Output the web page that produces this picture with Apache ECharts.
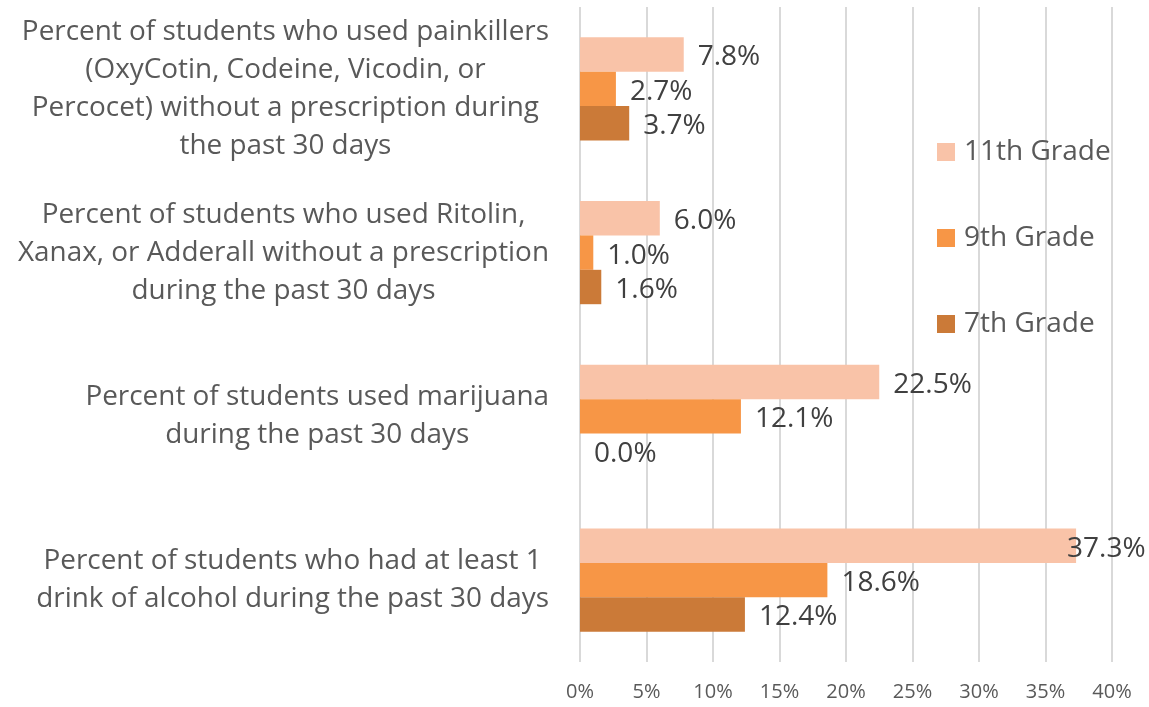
<!DOCTYPE html>
<html>
<head>
<meta charset="utf-8">
<style>
  html, body { margin: 0; padding: 0; background: #fff; }
  #chart { width: 1149px; height: 707px; }
</style>
<script src="https://cdn.jsdelivr.net/npm/echarts@6/dist/echarts.min.js"></script>
</head>
<body>
<div id="chart"></div>
<script>
// Survey measures, listed top to bottom
var categories = [
  "Percent of students who used painkillers\n(OxyCotin, Codeine, Vicodin, or\nPercocet) without a prescription during\nthe past 30 days",
  "Percent of students who used Ritolin,\nXanax, or Adderall without a prescription\nduring the past 30 days",
  "Percent of students used marijuana\nduring the past 30 days",
  "Percent of students who had at least 1\ndrink of alcohol during the past 30 days"
];
var seriesNames = ["11th Grade", "9th Grade", "7th Grade"];
var grade11 = [7.8, 6.0, 22.5, 37.3];
var grade9 = [2.7, 1.0, 12.1, 18.6];
var grade7 = [3.7, 1.6, 0.0, 12.4];
var xTicks = [0, 5, 10, 15, 20, 25, 30, 35, 40];

var colors = ["#F9C3A8", "#F79646", "#CB7A38"];
var FONT = "Open Sans";

function makeData(values) {
  return values.map(function (v) {
    var item = { value: v };
    // the longest bar's label tucks back over the bar end
    if (v > 35) item.label = { offset: [-23, 3] };
    return item;
  });
}

function barSeries(name, values, color) {
  return {
    name: name,
    type: "bar",
    data: makeData(values),
    barGap: "0%",
    barCategoryGap: "37%",
    itemStyle: { color: color },
    label: {
      show: true,
      position: "right",
      distance: 14,
      offset: [0, 3],
      fontFamily: FONT,
      fontSize: 28,
      color: "#404040",
      formatter: function (p) { return p.value.toFixed(1) + "%"; }
    }
  };
}

var chart = echarts.init(document.getElementById("chart"), null, { renderer: "canvas" });
chart.setOption({
  animation: false,
  backgroundColor: "#ffffff",
  grid: { left: 580, right: 37, top: 7, bottom: 45, containLabel: false },
  legend: {
    orient: "vertical",
    left: 932,
    top: 131,
    itemWidth: 18,
    itemHeight: 18,
    itemGap: 54,
    icon: "rect",
    data: seriesNames,
    textStyle: {
      fontFamily: FONT,
      fontSize: 28,
      color: "#595959",
      lineHeight: 32,
      padding: [0, 0, 0, 4]
    }
  },
  xAxis: {
    type: "value",
    min: xTicks[0],
    max: xTicks[xTicks.length - 1],
    interval: 5,
    axisLine: { show: false },
    axisTick: { show: false },
    splitLine: { show: true, lineStyle: { color: "#D9D9D9", width: 2 } },
    axisLabel: {
      margin: 20,
      fontFamily: FONT,
      fontSize: 20,
      color: "#595959",
      formatter: function (v) { return v + "%"; }
    }
  },
  yAxis: {
    type: "category",
    inverse: true,
    data: categories,
    axisLine: { show: false },
    axisTick: { show: false },
    axisLabel: {
      align: "right",
      margin: 31,
      interval: 0,
      formatter: function (v) {
        return v.split("\n").map(function (line) { return "{c|" + line + "}"; }).join("\n");
      },
      rich: {
        c: {
          align: "center",
          fontFamily: FONT,
          fontSize: 27.9,
          lineHeight: 38,
          color: "#595959"
        }
      }
    }
  },
  series: [
    barSeries(seriesNames[0], grade11, colors[0]),
    barSeries(seriesNames[1], grade9, colors[1]),
    barSeries(seriesNames[2], grade7, colors[2])
  ]
});
</script>
</body>
</html>
